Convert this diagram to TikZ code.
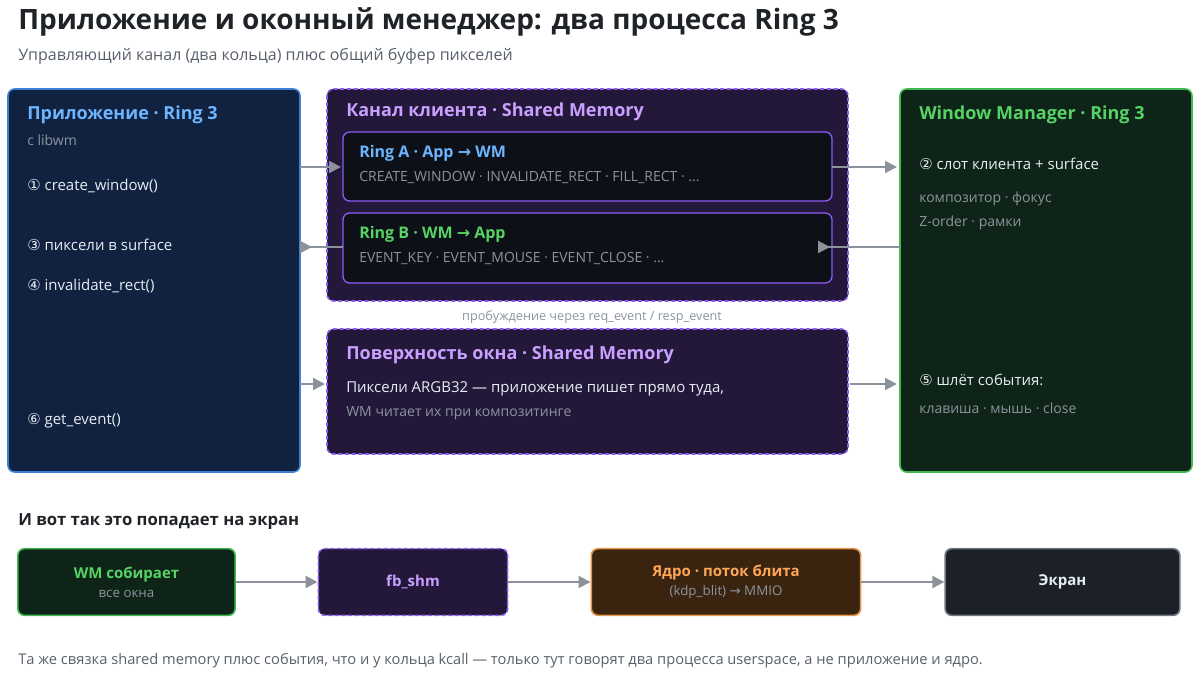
\documentclass[tikz,border=0pt]{standalone}
\usepackage{fontspec}
\setmainfont{Open Sans}
\newfontfamily\symf{DejaVu Sans}
\usetikzlibrary{arrows.meta}
\definecolor{appfill}{HTML}{112240}
\definecolor{appline}{HTML}{3B82D6}
\definecolor{appblue}{HTML}{6CB6FF}
\definecolor{shmfill}{HTML}{24183A}
\definecolor{shmline}{HTML}{8B5CF6}
\definecolor{shmtext}{HTML}{C9A0FF}
\definecolor{wmfill}{HTML}{0F2418}
\definecolor{wmline}{HTML}{3FB950}
\definecolor{wmtext}{HTML}{56D364}
\definecolor{ringfill}{HTML}{0D1117}
\definecolor{krnfill}{HTML}{3A2410}
\definecolor{krnline}{HTML}{E8944A}
\definecolor{krntext}{HTML}{FFA657}
\definecolor{scrfill}{HTML}{1C2128}
\definecolor{scrline}{HTML}{6E7681}
\definecolor{txt}{HTML}{E6EDF3}
\definecolor{dim}{HTML}{8B949E}
\definecolor{arr}{HTML}{8B929B}
\definecolor{ink}{HTML}{1F2328}
\definecolor{sub}{HTML}{57606A}
\tikzset{
  box/.style={draw, line width=1.2pt, rounded corners=5pt},
  shm/.style={box, draw=shmline, fill=shmfill, dash pattern=on 3pt off 2pt},
  ttl/.style={anchor=west, inner sep=0pt, font=\fontsize{13.5}{16}\selectfont\bfseries},
  ln/.style={anchor=west, inner sep=0pt, text=txt, font=\fontsize{11.25}{14}\selectfont},
  sm/.style={anchor=west, inner sep=0pt, text=dim, font=\fontsize{10.5}{13}\selectfont},
  flow/.style={draw=arr, line width=1.5pt, -{Triangle[length=9pt,width=9pt]}},
  back/.style={draw=arr, line width=1.5pt, -{Triangle[reversed,length=9pt,width=9pt]}}
}
\newcommand{\cn}[1]{{\symf #1}}
\begin{document}
\begin{tikzpicture}[x=0.75pt,y=0.75pt,yscale=-1,xscale=1]
\useasboundingbox (0,0) rectangle (1200,684);

% title
\node[anchor=west, inner sep=0pt, text=ink, font=\fontsize{21}{25}\selectfont\bfseries] (title) at (18,22) {Приложение и оконный менеджер: два процесса Ring 3};
\node[anchor=west, inner sep=0pt, text=sub, font=\fontsize{12}{14}\selectfont] (subtitle) at (18,56) {Управляющий канал (два кольца) плюс общий буфер пикселей};

% application
\draw[box, draw=appline, fill=appfill] (8,89) rectangle (300,472);
\coordinate (appE1) at (300,167);
\coordinate (appE2) at (300,247);
\coordinate (appE3) at (300,384);
\node[ttl, text=appblue] (apptitle) at (27,115) {Приложение · Ring 3};
\node[sm] (applib) at (27,140) {c libwm};
\node[ln] (app1) at (27,186) {\cn{①} create\_window()};
\node[ln] (app3) at (27,245) {\cn{③} пиксели в surface};
\node[ln] (app4) at (27,286) {\cn{④} invalidate\_rect()};
\node[ln] (app6) at (27,421) {\cn{⑥} get\_event()};

% channel
\draw[shm] (327,89) rectangle (848,301);
\node[ttl, text=shmtext] (chtitle) at (346,112) {Канал клиента · Shared Memory};
\draw[box, draw=shmline, fill=ringfill, line width=1pt] (343,132) rectangle (832,201);
\coordinate (ringAW) at (341,167);
\coordinate (ringAE) at (832,167);
\node[ttl, text=appblue, font=\fontsize{12}{14}\selectfont\bfseries] (ringA) at (359,153) {Ring A · App \cn{→} WM};
\node[sm] (ringAtxt) at (359,178) {CREATE\_WINDOW · INVALIDATE\_RECT · FILL\_RECT · ...};
\draw[box, draw=shmline, fill=ringfill, line width=1pt] (343,213) rectangle (832,283);
\coordinate (ringBW) at (343,247);
\coordinate (ringBE) at (818,247);
\node[ttl, text=wmtext, font=\fontsize{12}{14}\selectfont\bfseries] (ringB) at (359,234) {Ring B · WM \cn{→} App};
\node[sm] (ringBtxt) at (359,259) {EVENT\_KEY · EVENT\_MOUSE · EVENT\_CLOSE · ...};
\node[inner sep=0pt, text=dim, font=\fontsize{9.5}{11}\selectfont] (wake) at (592,317) {пробуждение через req\_event / resp\_event};

% surface
\draw[shm] (327,329) rectangle (848,454);
\coordinate (surfW) at (325,384);
\coordinate (surfE) at (850,384);
\node[ttl, text=shmtext] (sftitle) at (346,355) {Поверхность окна · Shared Memory};
\node[ln] (sf1) at (346,389) {Пиксели ARGB32 — приложение пишет прямо туда,};
\node[sm] (sf2) at (346,413) {WM читает их при композитинге};

% window manager
\draw[box, draw=wmline, fill=wmfill] (900,89) rectangle (1192,472);
\coordinate (wmW1) at (897,167);
\coordinate (wmW2) at (900,247);
\coordinate (wmW3) at (897,384);
\node[ttl, text=wmtext] (wmtitle) at (919,115) {Window Manager · Ring 3};
\node[ln] (wm2) at (919,164) {\cn{②} слот клиента + surface};
\node[sm] (wmc1) at (919,199) {композитор · фокус};
\node[sm] (wmc2) at (919,223) {Z-order · рамки};
\node[ln] (wm5) at (919,380) {\cn{⑤} шлёт события:};
\node[sm] (wmc3) at (919,408) {клавиша · мышь · close};

% connectors
\draw[flow] (appE1) -- (ringAW);
\draw[back] (ringBW) -- (appE2);
\draw[flow] (ringAE) -- (wmW1);
\draw[back] (wmW2) -- (ringBE);
\draw[flow] (appE3) -- (surfW);
\draw[flow] (surfE) -- (wmW3);

% pipeline
\node[anchor=west, inner sep=0pt, text=ink, font=\fontsize{12.5}{15}\selectfont\bfseries] (screenhead) at (18,522) {И вот так это попадает на экран};
\node[box, draw=wmline, fill=wmfill, minimum width=163pt, minimum height=50pt, align=center, font=\fontsize{11.25}{15}\selectfont] (wmc) at (126.5,582) {\textbf{\color{wmtext}WM собирает}\\[-1pt]{\color{dim}\fontsize{10}{12}\selectfont все окна}};
\node[shm, minimum width=142pt, minimum height=50pt, font=\fontsize{11.25}{15}\selectfont\bfseries, text=shmtext] (fb) at (413,582) {fb\_shm};
\node[box, draw=krnline, fill=krnfill, minimum width=202pt, minimum height=50pt, align=center, font=\fontsize{11.25}{15}\selectfont] (krn) at (726,582) {\textbf{\color{krntext}Ядро · поток блита}\\[-1pt]{\color{dim}\fontsize{10}{12}\selectfont (kdp\_blit) \cn{→} MMIO}};
\node[box, draw=scrline, fill=scrfill, minimum width=176pt, minimum height=50pt, font=\fontsize{11.25}{15}\selectfont\bfseries, text=txt] (scr) at (1062.5,582) {Экран};
\draw[flow] (wmc) -- (fb);
\draw[flow] (fb) -- (krn);
\draw[flow] (krn) -- (scr);

\node[anchor=west, inner sep=0pt, text=sub, font=\fontsize{11}{13}\selectfont] (footer) at (18,661) {Та же связка shared memory плюс события, что и у кольца kcall — только тут говорят два процесса userspace, а не приложение и ядро.};
\end{tikzpicture}
\end{document}
